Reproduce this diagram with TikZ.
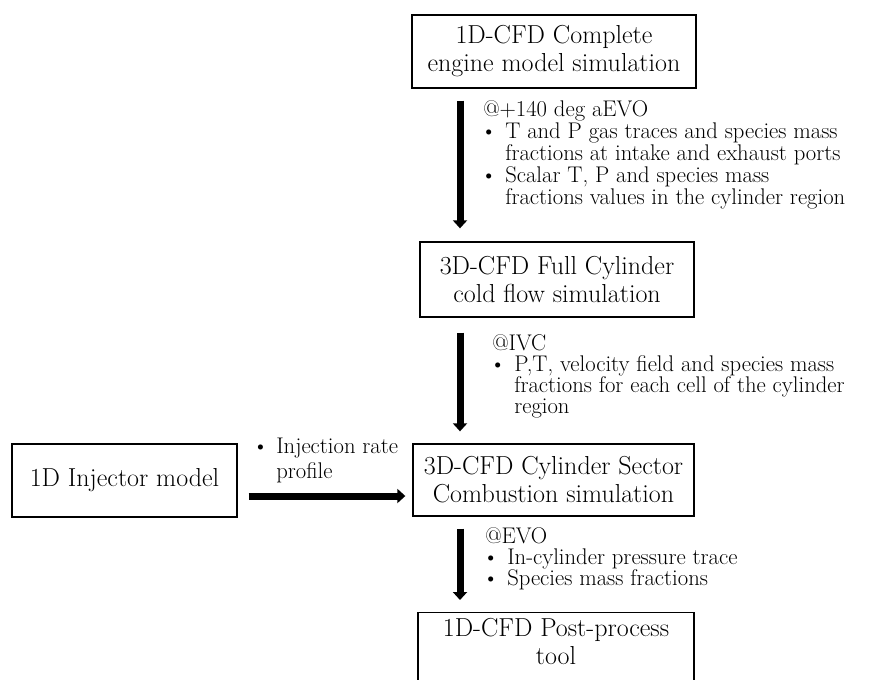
\documentclass[tikz,border=0pt]{standalone}
\usepackage{tikz}
\usetikzlibrary{arrows.meta,calc}
\newcommand{\itm}{\hspace*{-2pt}\makebox[18.5pt][l]{\textbullet}}
\newcommand{\cnt}{\hspace*{16.5pt}}
\begin{document}
\begin{tikzpicture}[x=0.75pt,y=-0.75pt,
        every node/.style={inner sep=0pt},
        block/.style={draw, line width=1pt, align=center, font=\fontsize{19.5}{21}\selectfont},
        note/.style={anchor=north west, align=left, font=\fontsize{17}{16.5}\selectfont},
        flow/.style={line width=5.25pt, -{Triangle[length=6pt,width=10.5pt]}}]
        \useasboundingbox (0,0) rectangle (877,679);
        \clip (0,0) rectangle (877,679);

        \node[block, minimum width=213pt, minimum height=54.75pt] (engine) at (554,51.5) {1D-CFD Complete\\engine model simulation};
        \node[block, minimum width=205.5pt, minimum height=56.25pt] (cold) at (557,279.5) {3D-CFD Full Cylinder\\cold flow simulation};
        \node[block, minimum width=210.75pt, minimum height=54pt] (sector) at (553.5,480) {3D-CFD Cylinder Sector\\Combustion simulation};
        \node[block, minimum width=168.75pt, minimum height=54.75pt] (injector) at (124.5,480.5) {1D Injector model};
        \node[block, anchor=north, minimum width=207pt, inner ysep=4pt, text depth=40pt] (post) at (556,612) {1D-CFD Post-process\\tool};

        % arrows between the stages
        \coordinate (ax) at (460,0);
        \coordinate (ay) at (0,496);
        \draw[flow, shorten <=9pt, shorten >=9.75pt] (engine.south -| ax) -- (cold.north -| ax);
        \draw[flow, shorten <=11.25pt, shorten >=9pt] (cold.south -| ax) -- (sector.north -| ax);
        \draw[flow, shorten <=9pt, shorten >=9pt] (sector.south -| ax) -- (post.north -| ax);
        \draw[flow, shorten <=8.25pt, shorten >=5.25pt] (injector.east |- ay) -- (sector.west |- ay);

        % exchanged quantities
        \node[note] (n1) at (483,100) {@+140 deg aEVO\\\itm T and P gas traces and species mass\\\cnt fractions at intake and exhaust ports\\\itm Scalar T, P and species mass\\\cnt fractions values in the cylinder region};
        \node[note, font=\fontsize{17}{15.75}\selectfont] (n2) at (492,334) {@IVC\\\itm P,T, velocity field and species mass\\\cnt fractions for each cell of the cylinder\\\cnt region};
        \node[note, font=\fontsize{17}{18.75}\selectfont] (n3) at (252,438) {\makebox[18pt][l]{\textbullet}Injection rate\\\hspace*{18pt}profile};
        \node[note, font=\fontsize{17}{15.75}\selectfont] (n4) at (485,527) {@EVO\\\itm In-cylinder pressure trace\\\itm Species mass fractions};
\end{tikzpicture}
\end{document}
